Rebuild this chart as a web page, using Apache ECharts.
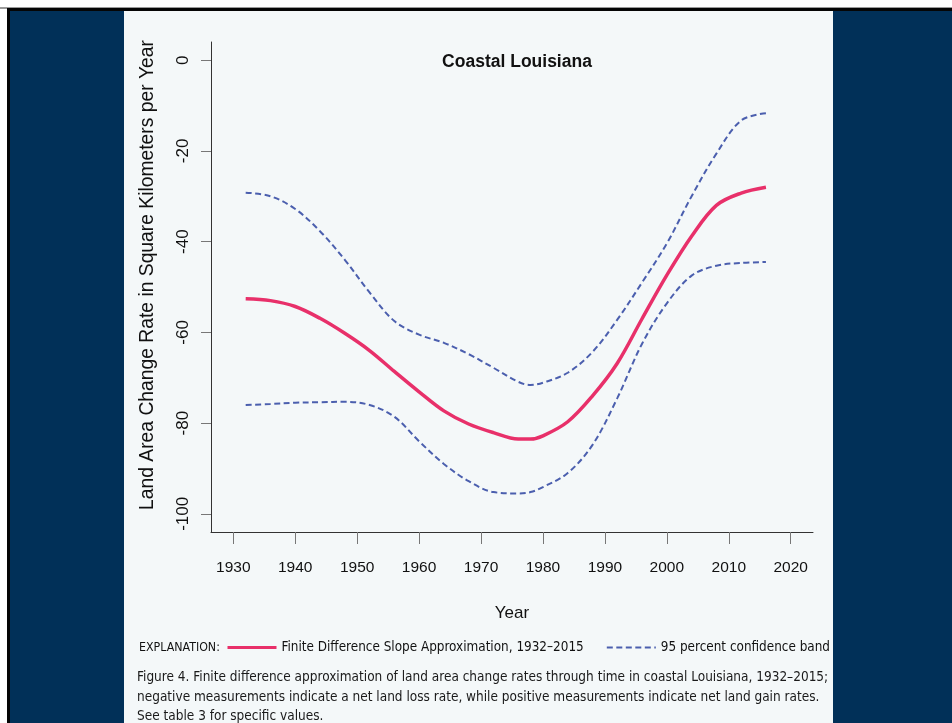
<!DOCTYPE html>
<html>
<head>
<meta charset="utf-8">
<script src="https://cdn.jsdelivr.net/npm/echarts@6/dist/echarts.min.js"></script>
<style>html,body{margin:0;padding:0;background:#fff}#c{width:952px;height:723px}</style>
</head>
<body>
<div id="c"></div>
<script>
// ---- data ----
const years = [1932,1936,1940,1944,1948,1952,1956,1960,1964,1968,1972,1976,1978,1980,1984,1988,1992,1996,2000,2004,2008,2012,2016];
const slopeValues = [-52.6,-53.0,-54.3,-56.9,-60.2,-64.0,-68.6,-73.1,-77.3,-80.2,-82.1,-83.5,-83.5,-82.8,-79.7,-74.0,-66.8,-57.0,-47.4,-38.8,-32.0,-29.3,-28.0];
const upperBand = [-29.2,-30.0,-32.8,-37.7,-44.0,-51.2,-57.5,-60.5,-62.3,-64.8,-67.8,-70.9,-71.6,-71.1,-68.9,-64.3,-57.2,-49.0,-40.4,-30.0,-20.6,-13.3,-11.7];
const lowerBand = [-76.0,-75.8,-75.5,-75.4,-75.3,-76.0,-78.6,-84.0,-89.0,-92.8,-95.2,-95.5,-95.2,-94.1,-91.0,-84.8,-74.5,-62.5,-53.6,-47.5,-45.3,-44.7,-44.5];
const xTicks = [1930,1940,1950,1960,1970,1980,1990,2000,2010,2020];
const yTicks = [0,-20,-40,-60,-80,-100];
const seriesNames = ['Finite Difference Slope Approximation, 1932\u20132015','95 percent confidence band'];
const titleText = 'Coastal Louisiana';
const xName = 'Year';
const yName = 'Land Area Change Rate in Square Kilometers per Year';
const explanationLabel = 'EXPLANATION:';
const captionLines = [
  'Figure 4. Finite difference approximation of land area change rates through time in coastal Louisiana, 1932\u20132015;',
  'negative measurements indicate a net land loss rate, while positive measurements indicate net land gain rates.',
  'See table 3 for specific values.'
];

const pair = (vals) => years.map((y, i) => [y, vals[i]]);
const cond = "'DejaVu Sans Condensed','Liberation Sans',sans-serif";
const arial = "'Liberation Sans',Arial,sans-serif";
const RED = '#E8306A', BLUE = '#4B5FAE';

const chart = echarts.init(document.getElementById('c'), null, {renderer: 'canvas'});
chart.setOption({
  backgroundColor: '#ffffff',
  animation: false,
  graphic: [
    {type: 'rect', z: -10, shape: {x: 0, y: 7, width: 952, height: 2}, style: {fill: '#9a9a9a'}},
    {type: 'rect', z: -9, shape: {x: 7, y: 8, width: 945, height: 715}, style: {fill: '#050505'}},
    {type: 'rect', z: -8, shape: {x: 10, y: 11, width: 942, height: 712}, style: {fill: '#013058'}},
    {type: 'rect', z: -7, shape: {x: 124, y: 11, width: 709, height: 712}, style: {fill: '#F4F8F9'}},
    {type: 'text', left: 139, top: 642, style: {text: explanationLabel, font: "12.3px " + cond, fill: '#111'}},
    {type: 'text', left: 137, top: 668, style: {text: captionLines.join('\n'), font: "13.5px " + cond, fill: '#1a1a1a', lineHeight: 19.5}}
  ],
  title: {
    text: titleText, left: 512, top: 48, textAlign: 'center',
    textStyle: {fontFamily: arial, fontWeight: 'bold', fontSize: 17.5, color: '#111'}
  },
  legend: {
    left: 226, top: 641, padding: 0, itemWidth: 49, itemHeight: 14, itemGap: 22,
    itemStyle: {color: 'rgba(0,0,0,0)', borderWidth: 0, opacity: 0},
    textStyle: {fontFamily: cond, fontSize: 13.4, color: '#111'},
    data: [
      {name: seriesNames[0], lineStyle: {width: 3}},
      {name: seriesNames[1], lineStyle: {width: 2.2}}
    ]
  },
  grid: {left: 211, right: 139, top: 42, bottom: 191, containLabel: false},
  xAxis: {
    type: 'value', min: 1926.4, max: 2023.6,
    name: xName, nameLocation: 'middle', nameGap: 73,
    nameTextStyle: {fontFamily: arial, fontSize: 17, color: '#111'},
    axisLine: {show: true, onZero: false, lineStyle: {color: '#333', width: 1}},
    axisTick: {show: true, customValues: xTicks, length: 12, lineStyle: {color: '#777'}},
    axisLabel: {customValues: xTicks, margin: 27.5, fontFamily: arial, fontSize: 15.5, color: '#111',
                formatter: (v) => String(v)},
    splitLine: {show: false}
  },
  yAxis: {
    type: 'value', min: -104, max: 4,
    name: yName, nameLocation: 'middle', nameGap: 54, nameRotate: 90,
    nameTextStyle: {fontFamily: arial, fontSize: 19.3, color: '#111', padding: [0, 0, 0, 24]},
    axisLine: {show: true, onZero: false, lineStyle: {color: '#333', width: 1}},
    axisTick: {show: true, customValues: yTicks, length: 10, lineStyle: {color: '#777'}},
    axisLabel: {customValues: yTicks, rotate: 90, margin: 19.5, fontFamily: arial, fontSize: 17, color: '#111'},
    splitLine: {show: false}
  },
  series: [
    {name: seriesNames[1], type: 'line', data: pair(upperBand), smooth: 0.35, symbol: 'none',
     lineStyle: {color: BLUE, width: 2, type: [6, 3.5]}, itemStyle: {color: BLUE}},
    {name: seriesNames[1], type: 'line', data: pair(lowerBand), smooth: 0.35, symbol: 'none',
     lineStyle: {color: BLUE, width: 2, type: [6, 3.5]}, itemStyle: {color: BLUE}},
    {name: seriesNames[0], type: 'line', data: pair(slopeValues), smooth: 0.35, symbol: 'none', z: 5,
     lineStyle: {color: RED, width: 3.5}, itemStyle: {color: RED}}
  ]
});
</script>
</body>
</html>
